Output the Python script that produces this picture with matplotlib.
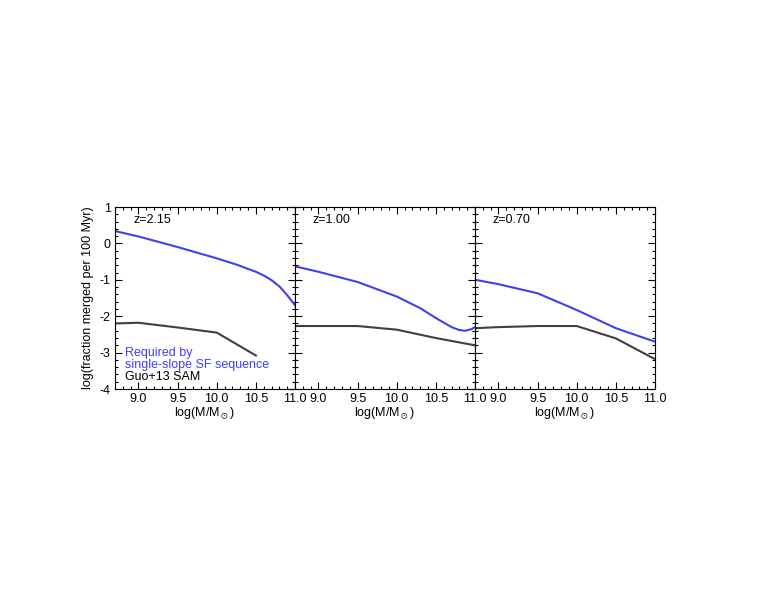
import matplotlib
matplotlib.use("Agg")
import matplotlib.pyplot as plt
from matplotlib.ticker import MultipleLocator

plt.rcParams["font.family"] = ["Liberation Sans", "DejaVu Sans"]
plt.rcParams["axes.unicode_minus"] = False

# z = 2.15
x_req_1 = [8.7, 9.0, 9.5, 10.0, 10.25, 10.5, 10.6, 10.7, 10.8, 10.9, 11.0]
y_req_1 = [0.34, 0.19, -0.10, -0.41, -0.58, -0.78, -0.88, -1.01, -1.18, -1.42, -1.70]
x_sam_1 = [8.7, 9.0, 9.5, 10.0, 10.5]
y_sam_1 = [-2.20, -2.18, -2.31, -2.45, -3.08]

# z = 1.00
x_req_2 = [8.7, 9.0, 9.5, 10.0, 10.3, 10.5, 10.7, 10.8, 10.87, 10.95, 11.0]
y_req_2 = [-0.63, -0.78, -1.06, -1.46, -1.78, -2.05, -2.30, -2.38, -2.40, -2.36, -2.30]
x_sam_2 = [8.7, 9.0, 9.5, 10.0, 10.5, 11.0]
y_sam_2 = [-2.27, -2.27, -2.27, -2.37, -2.60, -2.80]

# z = 0.70
x_req_3 = [8.7, 9.0, 9.5, 10.0, 10.5, 11.0]
y_req_3 = [-1.00, -1.12, -1.37, -1.83, -2.33, -2.70]
x_sam_3 = [8.7, 9.0, 9.5, 10.0, 10.5, 11.0]
y_sam_3 = [-2.33, -2.30, -2.27, -2.27, -2.61, -3.18]

panels = [
    ("z=2.15", x_req_1, y_req_1, x_sam_1, y_sam_1),
    ("z=1.00", x_req_2, y_req_2, x_sam_2, y_sam_2),
    ("z=0.70", x_req_3, y_req_3, x_sam_3, y_sam_3),
]

blue = "#4040f0"
grey = "#404040"
fs = 9

fig = plt.figure(figsize=(7.7, 5.95), dpi=100)

left = 115 / 770
width = 180 / 770
bottom = 1 - 389 / 595
height = 182 / 595

for i, (label, xr, yr, xs, ys) in enumerate(panels):
    ax = fig.add_axes([left + i * width, bottom, width, height])
    ax.plot(xr, yr, color=blue, lw=1.5)
    ax.plot(xs, ys, color=grey, lw=1.5)
    ax.set_xlim(8.7, 11.0)
    ax.set_ylim(-4, 1)
    ax.xaxis.set_major_locator(MultipleLocator(0.5))
    ax.xaxis.set_minor_locator(MultipleLocator(0.1))
    ax.yaxis.set_major_locator(MultipleLocator(1))
    ax.yaxis.set_minor_locator(MultipleLocator(0.2))
    ax.xaxis.set_major_formatter(plt.FormatStrFormatter("%.1f"))
    ax.tick_params(which="both", direction="in", top=True, right=True,
                   labelsize=fs, width=0.8, pad=3)
    ax.tick_params(which="major", length=5)
    ax.tick_params(which="minor", length=2.5)
    for sp in ax.spines.values():
        sp.set_linewidth(0.8)
    ax.set_xlabel(r"log($\mathregular{M/M_\odot}$)", fontsize=fs, labelpad=0)
    ax.text(0.1, 0.93, label, transform=ax.transAxes, fontsize=fs,
            va="center", ha="left")
    if i == 0:
        ax.set_ylabel("log(fraction merged per 100 Myr)", fontsize=fs, labelpad=4)
        ax.text(0.056, 0.165, "Required by\nsingle-slope SF sequence",
                transform=ax.transAxes, fontsize=fs, color=blue,
                va="center", ha="left", linespacing=1.0)
        ax.text(0.056, 0.066, "Guo+13 SAM", transform=ax.transAxes,
                fontsize=fs, color="black", va="center", ha="left")
    else:
        ax.set_yticklabels([])

fig.savefig("out.png", dpi=100)
